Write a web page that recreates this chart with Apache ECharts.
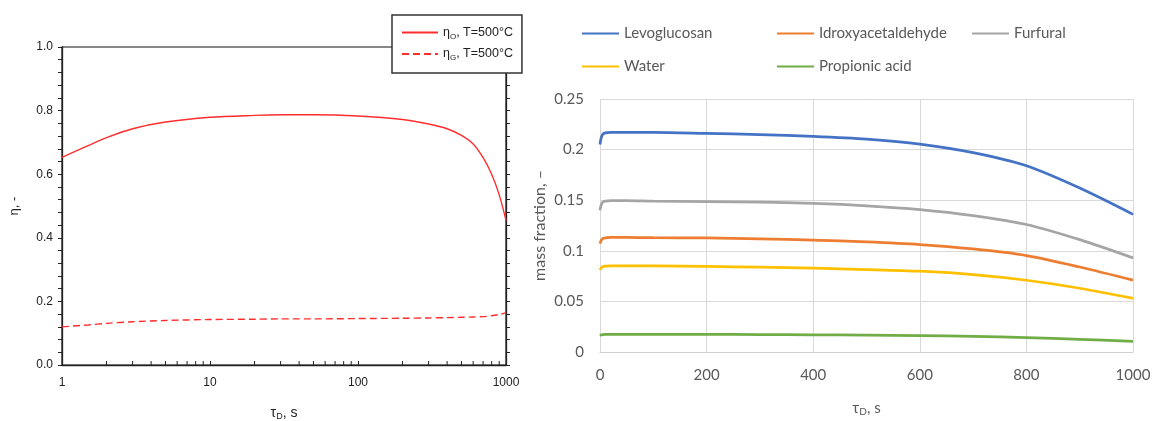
<!DOCTYPE html>
<html>
<head>
<meta charset="utf-8">
<script src="https://cdn.jsdelivr.net/npm/echarts@6/dist/echarts.min.js"></script>
<style>
    html, body { margin: 0; padding: 0; background: #fff; }
    #chart { width: 1153px; height: 421px; }
</style>
</head>
<body>
<div id="chart"></div>
<script>
// left panel: efficiency vs residence time (log axis)
var tauLog = [1, 1.5, 2, 3, 5, 10, 20, 30, 50, 100, 200, 300, 400, 500, 600, 700, 800, 900, 1000];
var etaO = [0.653, 0.69, 0.715, 0.743, 0.764, 0.779, 0.785, 0.787, 0.787, 0.783, 0.772, 0.758, 0.743, 0.722, 0.695, 0.652, 0.6, 0.535, 0.455];
var etaG = [0.12, 0.126, 0.131, 0.136, 0.14, 0.143, 0.144, 0.145, 0.145, 0.146, 0.147, 0.148, 0.149, 0.15, 0.151, 0.152, 0.155, 0.159, 0.164];
var logMinorTicks = [2, 3, 4, 5, 6, 7, 8, 9, 20, 30, 40, 50, 60, 70, 80, 90, 200, 300, 400, 500, 600, 700, 800, 900];

// right panel: mass fractions
var tau = [0, 2, 5, 10, 20, 50, 100, 200, 300, 400, 500, 600, 700, 800, 900, 1000];
var levoglucosan = [0.205, 0.211, 0.215, 0.2165, 0.217, 0.217, 0.217, 0.216, 0.2148, 0.213, 0.2103, 0.2055, 0.197, 0.184, 0.162, 0.136];
var idroxy = [0.107, 0.11, 0.112, 0.1128, 0.1132, 0.1132, 0.113, 0.1127, 0.1118, 0.1105, 0.1088, 0.1062, 0.1018, 0.0953, 0.084, 0.071];
var furfural = [0.14, 0.145, 0.148, 0.149, 0.1495, 0.1495, 0.149, 0.1487, 0.148, 0.1468, 0.1445, 0.1408, 0.1348, 0.126, 0.111, 0.093];
var water = [0.081, 0.083, 0.0843, 0.0848, 0.085, 0.085, 0.085, 0.0845, 0.0838, 0.0828, 0.0815, 0.0798, 0.0765, 0.0709, 0.063, 0.053];
var propionic = [0.016, 0.0168, 0.0172, 0.0174, 0.0175, 0.0175, 0.0175, 0.0174, 0.0172, 0.017, 0.0167, 0.0162, 0.0155, 0.0143, 0.0125, 0.0105];

var leftNames = ['ηO, T=500°C', 'ηG, T=500°C'];
var rightNames = ['Levoglucosan', 'Idroxyacetaldehyde', 'Furfural', 'Water', 'Propionic acid'];
var rightColors = ['#4472C4', '#ED7D31', '#A5A5A5', '#FFC000', '#70AD47'];

function zip(xs, ys) {
    return xs.map(function (x, i) { return [x, ys[i]]; });
}

var myChart = echarts.init(document.getElementById('chart'));

var black = '#222';
var gray = '#595959';
var red = '#ff2e2e';

function rightSeries(name, values, i) {
    return {
        name: name,
        type: 'line',
        xAxisIndex: 1,
        yAxisIndex: 2,
        data: zip(tau, values),
        showSymbol: false,
        symbol: 'none',
        smooth: 0.3,
        lineStyle: {width: 2.75, color: rightColors[i]},
        itemStyle: {color: rightColors[i]}
    };
}

var rightLegendCommon = {
    left: 581,
    width: 600,
    padding: 0,
    itemWidth: 37,
    itemHeight: 18,
    itemGap: 0,
    itemStyle: {opacity: 0},
    formatter: function (name) {
        // fixed-width columns like the spreadsheet legend
        return name === 'Furfural' ? '{e|' + name + '}' : '{n|' + name + '}';
    },
    textStyle: {
        rich: {
            n: {width: 152, fontFamily: 'Lato', fontSize: 15, color: gray, lineHeight: 18},
            e: {fontFamily: 'Lato', fontSize: 15, color: gray, lineHeight: 18}
        }
    }
};

var option = {
    animation: false,
    grid: [
        {left: 62, top: 47, width: 444, height: 318, outerBoundsMode: 'none', show: true, borderColor: '#111', borderWidth: 1.2, backgroundColor: 'transparent'},
        {left: 600, top: 99, width: 533, height: 253, outerBoundsMode: 'none'}
    ],
    legend: [
        {
            data: leftNames,
            orient: 'vertical',
            left: 392,
            top: 15,
            itemWidth: 36,
            itemHeight: 14,
            itemGap: 7,
            padding: [11, 9, 11, 9],
            backgroundColor: '#fff',
            borderColor: '#333',
            borderWidth: 1.5,
            itemStyle: {opacity: 0},
            z: 10,
            formatter: function (name) {
                return '{a|η}{b|' + name.charAt(1) + '}{a|' + name.slice(2) + '}';
            },
            textStyle: {
                rich: {
                    a: {fontFamily: 'Liberation Sans', fontSize: 12.5, color: black, lineHeight: 16},
                    b: {fontFamily: 'Liberation Sans', fontSize: 8, color: black, lineHeight: 10, verticalAlign: 'bottom'}
                }
            }
        },
        Object.assign({data: rightNames.slice(0, 3), top: 26}, rightLegendCommon),
        Object.assign({data: rightNames.slice(3), top: 59}, rightLegendCommon)
    ],
    xAxis: [
        {
            gridIndex: 0,
            type: 'log',
            logBase: 10,
            min: 1,
            max: 1000,
            name: '{a|τ}{b|D}{a|, s}',
            nameLocation: 'middle',
            nameGap: 40,
            nameTextStyle: {
                rich: {
                    a: {fontFamily: 'Liberation Sans', fontSize: 14, color: black, lineHeight: 16},
                    b: {fontFamily: 'Liberation Sans', fontSize: 9, color: black, lineHeight: 10, verticalAlign: 'bottom'}
                }
            },
            axisLine: {lineStyle: {color: black, width: 1.3}},
            axisTick: {inside: true, length: 4, lineStyle: {color: black}},
            splitLine: {show: false},
            axisLabel: {
                margin: 12,
                fontFamily: 'Liberation Sans',
                fontSize: 12,
                color: black,
                formatter: function (v) { return String(Math.round(v)); }
            }
        },
        {
            gridIndex: 1,
            type: 'value',
            min: 0,
            max: 1000,
            interval: 200,
            name: '{a|τ}{b|D}{a|, s}',
            nameLocation: 'middle',
            nameGap: 47,
            nameTextStyle: {
                rich: {
                    a: {fontFamily: 'Lato', fontSize: 15, color: gray, lineHeight: 18},
                    b: {fontFamily: 'Lato', fontSize: 10, color: gray, lineHeight: 12, verticalAlign: 'bottom'}
                }
            },
            axisLine: {lineStyle: {color: '#d0d0d0', width: 1}},
            axisTick: {show: false},
            splitLine: {lineStyle: {color: '#d9d9d9', width: 1}},
            axisLabel: {
                margin: 16,
                fontFamily: 'Lato',
                fontSize: 15,
                color: gray,
                formatter: function (v) { return String(v); }
            }
        }
    ],
    yAxis: [
        {
            gridIndex: 0,
            type: 'value',
            position: 'left',
            min: 0,
            max: 1,
            interval: 0.2,
            name: 'η, -',
            nameLocation: 'middle',
            nameGap: 41,
            nameTextStyle: {fontFamily: 'Liberation Sans', fontSize: 13, color: black},
            axisLine: {show: true, lineStyle: {color: black, width: 1.3}},
            axisTick: {show: true, inside: false, length: 4, lineStyle: {color: black}},
            minorTick: {show: true, splitNumber: 5, length: 4, lineStyle: {color: black}},
            splitLine: {show: false},
            axisLabel: {
                margin: 9,
                fontFamily: 'Liberation Sans',
                fontSize: 12,
                color: black,
                formatter: function (v) { return v.toFixed(1); }
            }
        },
        {
            gridIndex: 0,
            type: 'value',
            position: 'right',
            min: 0,
            max: 1,
            interval: 0.2,
            axisLine: {show: true, lineStyle: {color: black, width: 1.3}},
            axisTick: {show: true, inside: false, length: 4, lineStyle: {color: black}},
            minorTick: {show: true, splitNumber: 5, length: 4, lineStyle: {color: black}},
            splitLine: {show: false},
            axisLabel: {show: false}
        },
        {
            gridIndex: 1,
            type: 'value',
            min: 0,
            max: 0.25,
            interval: 0.05,
            name: 'mass fraction, –',
            nameLocation: 'middle',
            nameGap: 52,
            nameTextStyle: {fontFamily: 'Lato', fontSize: 16, color: gray},
            axisLine: {show: false},
            axisTick: {show: false},
            splitLine: {lineStyle: {color: '#d9d9d9', width: 1}},
            axisLabel: {margin: 16, fontFamily: 'Lato', fontSize: 15, color: gray}
        }
    ],
    series: [
        {
            name: leftNames[0],
            type: 'line',
            xAxisIndex: 0,
            yAxisIndex: 0,
            data: zip(tauLog, etaO),
            showSymbol: false,
            symbol: 'none',
            smooth: 0.3,
            lineStyle: {width: 1.4, color: red},
            itemStyle: {color: red}
        },
        {
            name: leftNames[1],
            type: 'line',
            xAxisIndex: 0,
            yAxisIndex: 0,
            data: zip(tauLog, etaG),
            showSymbol: false,
            symbol: 'none',
            smooth: 0.3,
            lineStyle: {width: 1.4, color: red, type: [7, 4]},
            itemStyle: {color: red}
        },
        {
            // minor ticks of the log axis (2..9 in each decade)
            type: 'custom',
            xAxisIndex: 0,
            yAxisIndex: 0,
            silent: true,
            z: 3,
            clip: false,
            data: logMinorTicks.map(function (v) { return [v, 0]; }),
            renderItem: function (params, api) {
                var p = api.coord([api.value(0), 0]);
                return {
                    type: 'line',
                    shape: {x1: p[0], y1: p[1], x2: p[0], y2: p[1] - 4},
                    style: {stroke: black, lineWidth: 1}
                };
            }
        },
        rightSeries(rightNames[0], levoglucosan, 0),
        rightSeries(rightNames[1], idroxy, 1),
        rightSeries(rightNames[2], furfural, 2),
        rightSeries(rightNames[3], water, 3),
        rightSeries(rightNames[4], propionic, 4)
    ]
};

myChart.setOption(option);
</script>
</body>
</html>
